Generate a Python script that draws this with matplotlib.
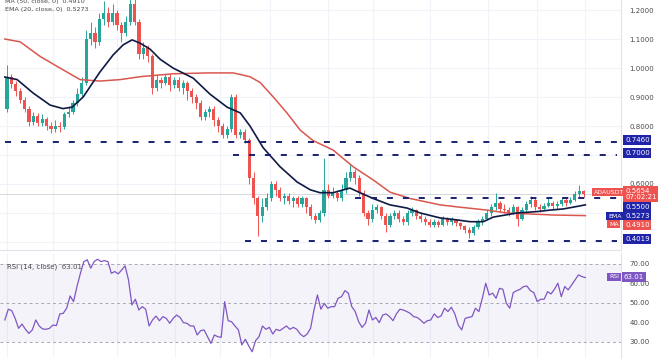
import numpy as np
import matplotlib
matplotlib.use("Agg")
import matplotlib.pyplot as plt

# ---------------------------------------------------------------------
# Data (daily candles, index 0 = first visible day)
# ---------------------------------------------------------------------
FIRST_OPEN = 0.86
closes = [
    0.970, 0.945, 0.920, 0.890, 0.860, 0.815, 0.835, 0.810, 0.825, 0.800,
    0.790, 0.800, 0.795, 0.840, 0.850, 0.880, 0.910, 0.950, 1.100, 1.120,
    1.090, 1.170, 1.190, 1.160, 1.190, 1.150, 1.120, 1.160, 1.220, 1.160,
    1.050, 1.070, 1.040, 0.930, 0.960, 0.950, 0.970, 0.940, 0.960, 0.930,
    0.950, 0.920, 0.900, 0.880, 0.830, 0.850, 0.860, 0.820, 0.800, 0.770,
    0.790, 0.900, 0.770, 0.780, 0.750, 0.620, 0.550, 0.490, 0.520, 0.550,
    0.600, 0.580, 0.550, 0.560, 0.540, 0.550, 0.530, 0.550, 0.520, 0.490,
    0.475, 0.500, 0.580, 0.560, 0.570, 0.550, 0.580, 0.620, 0.640, 0.620,
    0.570, 0.500, 0.480, 0.510, 0.520, 0.490, 0.460, 0.490, 0.500, 0.480,
    0.470, 0.500, 0.510, 0.490, 0.480, 0.470, 0.460, 0.470, 0.460, 0.480,
    0.470, 0.475, 0.465, 0.455, 0.440, 0.430, 0.450, 0.470, 0.480, 0.500,
    0.520, 0.535, 0.515, 0.510, 0.500, 0.520, 0.480, 0.510, 0.530, 0.545,
    0.520, 0.515, 0.525, 0.535, 0.525, 0.530, 0.545, 0.535, 0.545, 0.565,
    0.575, 0.5654,
]
highs = [
    1.010, 0.980, 0.955, 0.930, 0.900, 0.870, 0.850, 0.845, 0.840, 0.830,
    0.815, 0.820, 0.815, 0.850, 0.870, 0.890, 0.930, 0.970, 1.130, 1.160,
    1.140, 1.190, 1.230, 1.210, 1.220, 1.200, 1.160, 1.180, 1.260, 1.240,
    1.170, 1.090, 1.080, 1.050, 0.980, 0.970, 0.980, 0.980, 0.970, 0.970,
    0.960, 0.955, 0.930, 0.910, 0.890, 0.860, 0.870, 0.870, 0.830, 0.810,
    0.800, 0.910, 0.910, 0.790, 0.790, 0.760, 0.640, 0.560, 0.550, 0.570,
    0.610, 0.610, 0.590, 0.570, 0.570, 0.560, 0.560, 0.560, 0.555, 0.530,
    0.500, 0.510, 0.690, 0.600, 0.590, 0.580, 0.600, 0.640, 0.670, 0.650,
    0.630, 0.580, 0.510, 0.530, 0.530, 0.525, 0.500, 0.500, 0.510, 0.510,
    0.490, 0.510, 0.520, 0.515, 0.500, 0.490, 0.480, 0.480, 0.475, 0.490,
    0.485, 0.485, 0.480, 0.470, 0.460, 0.450, 0.460, 0.480, 0.490, 0.510,
    0.530, 0.570, 0.540, 0.530, 0.520, 0.530, 0.525, 0.520, 0.540, 0.560,
    0.550, 0.530, 0.535, 0.550, 0.540, 0.540, 0.555, 0.555, 0.555, 0.575,
    0.597, 0.580,
]
lows = [
    0.850, 0.930, 0.905, 0.880, 0.850, 0.800, 0.805, 0.800, 0.800, 0.785,
    0.775, 0.780, 0.780, 0.790, 0.830, 0.840, 0.870, 0.900, 0.940, 1.080,
    1.070, 1.080, 1.150, 1.140, 1.150, 1.130, 1.090, 1.110, 1.150, 1.150,
    1.030, 1.030, 1.020, 0.910, 0.920, 0.930, 0.940, 0.920, 0.930, 0.920,
    0.910, 0.890, 0.880, 0.860, 0.820, 0.820, 0.830, 0.800, 0.780, 0.760,
    0.760, 0.780, 0.760, 0.760, 0.740, 0.600, 0.530, 0.420, 0.470, 0.510,
    0.540, 0.560, 0.540, 0.530, 0.530, 0.520, 0.520, 0.520, 0.500, 0.480,
    0.465, 0.470, 0.490, 0.550, 0.550, 0.540, 0.540, 0.570, 0.610, 0.600,
    0.560, 0.490, 0.460, 0.470, 0.500, 0.480, 0.435, 0.450, 0.480, 0.470,
    0.460, 0.460, 0.490, 0.480, 0.470, 0.460, 0.450, 0.450, 0.450, 0.455,
    0.460, 0.460, 0.455, 0.445, 0.430, 0.415, 0.425, 0.445, 0.460, 0.475,
    0.490, 0.510, 0.505, 0.500, 0.490, 0.495, 0.455, 0.475, 0.505, 0.520,
    0.510, 0.505, 0.510, 0.520, 0.515, 0.515, 0.525, 0.525, 0.530, 0.540,
    0.555, 0.555,
]

# EMA(20) and MA(50): (candle index, price)
ema_x = [-0.5, 2.3, 5.9, 9.8, 12.7, 14.8, 17.3, 19.5, 21.1, 24.1, 26.4, 28.4,
         30.2, 32.5, 34.8, 37.7, 42.3, 46.1, 50.0, 53.0, 55.2, 58.2, 62.0,
         65.9, 68.9, 71.1, 74.1, 77.9, 80.2, 83.2, 87.0, 90.9, 93.9, 98.4,
         102.3, 105.2, 108.2, 110.5, 115.9, 120.5, 123.4, 126.4, 128.6, 131.4]
ema_y = [0.969, 0.960, 0.914, 0.872, 0.860, 0.865, 0.900, 0.950, 0.986, 1.045,
         1.080, 1.097, 1.086, 1.065, 1.030, 1.000, 0.965, 0.910, 0.865, 0.845,
         0.800, 0.725, 0.660, 0.607, 0.580, 0.570, 0.570, 0.586, 0.570, 0.550,
         0.528, 0.517, 0.500, 0.483, 0.476, 0.470, 0.470, 0.486, 0.500, 0.505,
         0.510, 0.514, 0.520, 0.528]
ma_x = [-0.5, 3.0, 7.5, 12.0, 16.6, 21.1, 25.7, 30.2, 37.7, 45.5, 51.4, 55.2,
        57.5, 60.5, 63.6, 66.6, 69.5, 74.1, 78.6, 83.2, 87.0, 91.6, 98.4,
        102.9, 109.1, 113.6, 118.2, 124.1, 131.4]
ma_y = [1.100, 1.090, 1.040, 1.000, 0.960, 0.955, 0.960, 0.970, 0.980, 0.983,
        0.983, 0.970, 0.950, 0.900, 0.845, 0.786, 0.750, 0.717, 0.660, 0.614,
        0.572, 0.550, 0.528, 0.520, 0.510, 0.500, 0.497, 0.493, 0.491]

# RSI(14) trace, evenly sampled across the visible candles
rsi = [
    41.3, 46.8, 46.1, 42.1, 37.0, 39.2, 36.5, 34.4, 36.2, 41.3, 38.2, 36.7,
    36.5, 37.0, 38.7, 38.4, 44.4, 44.7, 47.3, 53.6, 50.7, 58.4, 65.2, 71.2,
    72.1, 67.8, 71.2, 72.4, 71.2, 71.7, 71.2, 65.2, 66.1, 64.9, 66.9, 69.0,
    61.8, 49.0, 51.9, 46.4, 48.1, 46.8, 38.2, 41.3, 43.3, 40.9, 43.0, 42.1,
    39.6, 42.1, 43.8, 42.6, 39.9, 39.6, 38.2, 38.2, 33.6, 35.8, 36.2, 32.7,
    29.3, 33.6, 32.7, 32.4, 50.7, 40.9, 40.4, 38.2, 36.2, 28.5, 31.4, 28.0,
    25.0, 30.7, 32.7, 38.2, 36.5, 37.5, 34.1, 36.5, 35.8, 37.0, 38.2, 36.5,
    37.5, 36.5, 34.1, 32.7, 34.1, 37.0, 46.4, 54.1, 46.8, 49.8,
    47.3, 48.1, 48.1, 52.4, 53.2, 56.3, 55.0, 48.1, 45.6, 40.4, 37.5, 39.6,
    46.4, 41.3, 42.6, 39.9, 43.8, 44.4, 43.0, 40.9, 44.4, 46.8, 46.4, 45.6,
    44.7, 43.0, 42.6, 41.3, 39.6, 40.9, 41.3, 44.4, 42.6, 43.3, 47.3, 45.6,
    47.8, 44.4, 38.7, 36.2, 42.1, 42.6, 43.0, 47.3, 45.6, 52.4, 60.1, 54.1,
    55.0, 52.4, 57.5, 57.0, 49.8, 47.3, 55.3, 56.3, 57.0, 58.4, 58.7, 56.3,
    55.3, 50.7, 51.9, 51.9, 55.8, 54.6, 57.0, 60.1, 53.2, 58.4, 56.7, 59.2,
    61.8, 64.4, 63.5, 63.0,
]

levels = [0.7460, 0.7000, 0.5500, 0.4019]
level_start = [-0.5, 51.4, 79.0, 54.0]
time_grid = [0, 10.5, 25, 38.2, 48.4, 59.8, 73, 83.2, 96.1, 109.3, 120.5, 131.4]

# ---------------------------------------------------------------------
# Style
# ---------------------------------------------------------------------
UP = '#26a69a'
DOWN = '#ef5350'
NAVY = '#1b2070'
BOX_NAVY = '#2024a8'
EMA_C = '#0f1a45'
MA_C = '#d9574e'
RSI_C = '#7e57c2'
GRID = '#f0f3fa'
TXT = '#4a4a4a'
W, H = 660, 360

fig = plt.figure(figsize=(6.6, 3.6), dpi=100)
fig.patch.set_facecolor('white')
ax = fig.add_axes([0, 1 - 250 / H, 621 / W, 250 / H])
ax_r = fig.add_axes([0, 1 - 358 / H, 621 / W, 105 / H])

# ---------------------------------------------------------------------
# Price pane
# ---------------------------------------------------------------------
closes = np.array(closes)
opens = np.concatenate([[FIRST_OPEN], closes[:-1]])
idx = np.arange(len(closes))
up = closes >= opens
colors = np.where(up, UP, DOWN)

for xg in time_grid:
    ax.axvline(xg, color=GRID, lw=0.8, zorder=0)
    ax_r.axvline(xg, color=GRID, lw=0.8, zorder=0)

ax.vlines(idx, lows, highs, colors=colors, lw=0.7, zorder=2)
body = np.maximum(np.abs(closes - opens), 0.002)
ax.bar(idx, body, bottom=np.minimum(opens, closes), width=0.72,
       color=colors, linewidth=0, zorder=3)

ax.plot(ma_x, ma_y, color=MA_C, lw=1.1, zorder=4)
ax.plot(ema_x, ema_y, color=EMA_C, lw=1.2, zorder=4)

for lv, x0 in zip(levels, level_start):
    ax.hlines(lv, x0, 138.6, colors=NAVY, lw=1.4,
              linestyles=(0, (3.1, 5.1)), zorder=5)
ax.axhline(closes[-1], color='#d5d8e0', lw=0.7, zorder=1)

ax.set_xlim(-1.6, 139.5)
ax.set_ylim(0.3724, 1.2345)
yt = [0.4, 0.5, 0.6, 0.7, 0.8, 0.9, 1.0, 1.1, 1.2]
ax.set_yticks(yt, ['', '', '0.6000', '', '0.8000', '0.9000', '1.0000',
                   '1.1000', '1.2000'])
ax.yaxis.tick_right()
ax.tick_params(axis='y', length=0, pad=6, labelsize=5, labelcolor=TXT)
ax.set_xticks([])
ax.grid(axis='y', color=GRID, lw=0.8)
ax.set_axisbelow(True)
for s in ['top', 'left']:
    ax.spines[s].set_visible(False)
ax.spines['right'].set_color('#e0e3eb')
ax.spines['bottom'].set_color('#e0e3eb')

# indicator legend, top left
ax.text(0.008, 0.992, 'MA (50, close, 0)  0.4910', transform=ax.transAxes,
        fontsize=4.6, color=TXT, va='center', ha='left')
ax.text(0.008, 0.962, 'EMA (20, close, 0)  0.5273', transform=ax.transAxes,
        fontsize=4.6, color=TXT, va='center', ha='left')

# ---------------------------------------------------------------------
# RSI pane
# ---------------------------------------------------------------------
rsi_x = np.linspace(-0.5, 131.4, len(rsi))
ax_r.axhspan(30, 70, color=RSI_C, alpha=0.07, lw=0, zorder=0)
for lv in (70, 50, 30):
    ax_r.axhline(lv, color='#a8a8b4', lw=0.7, ls=(0, (3, 3)), zorder=1)
ax_r.plot(rsi_x, rsi, color=RSI_C, lw=0.9, zorder=3)
ax_r.set_xlim(-1.6, 139.5)
ax_r.set_ylim(21.8, 75.6)
ax_r.set_yticks([30, 40, 50, 60, 70],
                ['30.00', '40.00', '50.00', '60.00', '70.00'])
ax_r.yaxis.tick_right()
ax_r.tick_params(axis='y', length=0, pad=6, labelsize=5, labelcolor=TXT)
ax_r.set_xticks([])
for s in ['top', 'left', 'bottom']:
    ax_r.spines[s].set_visible(False)
ax_r.spines['right'].set_color('#e0e3eb')
ax_r.text(0.012, 0.87, 'RSI (14, close)  63.01', transform=ax_r.transAxes,
          fontsize=5, color=TXT, va='center', ha='left')

# ---------------------------------------------------------------------
# Right-hand price tags
# ---------------------------------------------------------------------
def tag(x, y, s, bg, fs=5, ha='left'):
    fig.text(x / W, 1 - y / H, s, fontsize=fs, color='white', ha=ha,
             va='center', linespacing=1.0,
             bbox=dict(boxstyle='square,pad=0.25', fc=bg, ec='none'))

tag(625, 140, '0.7460', BOX_NAVY)
tag(625, 153, '0.7000', BOX_NAVY)
tag(594, 192, 'ADAUSDT', DOWN, fs=4.5)
tag(625, 194, '0.5654\n07:02:21', DOWN)
tag(625, 207, '0.5500', BOX_NAVY)
tag(608, 216, 'EMA', BOX_NAVY, fs=4.5)
tag(625, 216, '0.5273', BOX_NAVY)
tag(609, 224, 'MA', DOWN, fs=4.5)
tag(625, 225, '0.4910', DOWN)
tag(625, 239, '0.4019', BOX_NAVY)
tag(609, 277, 'RSI', RSI_C, fs=4.5)
tag(624, 277, '63.01', RSI_C)

fig.savefig('out.png', dpi=100, facecolor='white')
